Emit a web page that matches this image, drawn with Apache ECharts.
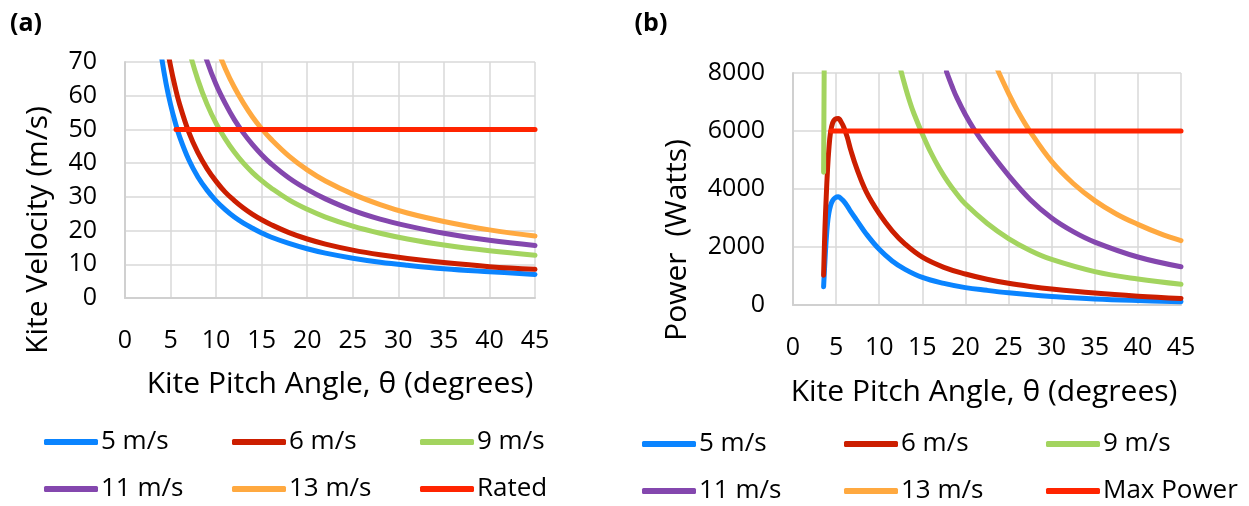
<!DOCTYPE html>
<html>
<head>
<meta charset="utf-8">
<script src="https://cdn.jsdelivr.net/npm/echarts@6/dist/echarts.min.js"></script>
<style>
  html, body { margin: 0; padding: 0; background: #fff; }
  #kite { width: 1249px; height: 506px; }
</style>
</head>
<body>
<div id="kite"></div>
<script>
const FONT = '"Open Sans"';

const names = ['5 m/s', '6 m/s', '9 m/s', '11 m/s', '13 m/s'];
const colors = ['#0a84ff', '#cc1e00', '#a3d45f', '#8447ae', '#ffa940'];
const ratedColor = '#ff2400';

// (a) kite velocity vs pitch angle
const thetaV = [3.5, 4, 4.5, 5, 5.5, 6, 7, 8, 9, 10, 11, 12, 13, 14, 15, 16, 18, 20, 22, 25, 28, 31, 35, 40, 45];
const vel5 = [81.9, 71.7, 63.7, 57.4, 52.2, 47.8, 41.0, 35.9, 32.0, 28.8, 26.2, 24.0, 22.2, 20.7, 19.3, 18.1, 16.2, 14.6, 13.3, 11.8, 10.6, 9.7, 8.7, 7.8, 7.0];
const vel6 = [98.3, 86.0, 76.5, 68.8, 62.6, 57.4, 49.2, 43.1, 38.4, 34.6, 31.4, 28.9, 26.7, 24.8, 23.2, 21.8, 19.4, 17.5, 16.0, 14.2, 12.8, 11.7, 10.5, 9.3, 8.5];
const vel9 = [147, 129, 115, 103, 93.9, 86.1, 73.9, 64.7, 57.5, 51.8, 47.2, 43.3, 40.0, 37.2, 34.8, 32.7, 29.1, 26.3, 24.0, 21.3, 19.2, 17.5, 15.7, 14.0, 12.7];
const vel11 = [180, 158, 140, 126, 115, 105, 90.3, 79.0, 70.3, 63.3, 57.7, 52.9, 48.9, 45.5, 42.5, 39.9, 35.6, 32.2, 29.4, 26.0, 23.4, 21.4, 19.2, 17.1, 15.6];
const vel13 = [213, 186, 166, 149, 136, 124, 107, 93.4, 83.1, 74.9, 68.1, 62.5, 57.8, 53.7, 50.2, 47.2, 42.1, 38.0, 34.7, 30.8, 27.7, 25.2, 22.7, 20.2, 18.4];
const ratedTheta = [5.6, 45];
const rated = [50, 50];

// (b) power vs pitch angle
const thetaP = [3.55, 3.7, 3.85, 4.0, 4.15, 4.35, 4.6, 4.9, 5.25, 5.6, 5.9, 6.3, 6.7, 7.4, 8.5, 10, 11.5, 13, 15, 17.5, 20, 22.5, 25, 27.5, 30, 35, 40, 45];
const pow5 = [630, 1500, 2250, 2800, 3150, 3420, 3600, 3700, 3730, 3660, 3570, 3410, 3220, 2920, 2450, 1920, 1520, 1230, 950, 745, 600, 505, 420, 350, 295, 210, 155, 115];
const pow6 = [1030, 2600, 3700, 4650, 5350, 5950, 6280, 6410, 6430, 6300, 6120, 5780, 5340, 4700, 3900, 3150, 2560, 2100, 1650, 1300, 1070, 890, 750, 640, 550, 410, 305, 225];
const theta9 = [3.55, 3.62, 8, 12.5, 13, 13.5, 14, 15, 16, 17, 18, 19, 20, 22.5, 25, 27.5, 30, 35, 40, 45];
const pow9 = [4580, 8300, null, 8100, 7550, 7050, 6620, 5900, 5250, 4700, 4230, 3830, 3480, 2820, 2290, 1880, 1570, 1150, 895, 715];
const theta11 = [17.8, 18.5, 19, 20, 21, 22.5, 25, 27.5, 30, 32.5, 35, 40, 45];
const pow11 = [8050, 7500, 7150, 6560, 6060, 5420, 4470, 3640, 3000, 2530, 2170, 1655, 1320];
const theta13 = [23.6, 24.2, 25, 26, 27.5, 30, 32.5, 35, 37.5, 40, 42.5, 45];
const pow13 = [8200, 7800, 7300, 6720, 5980, 4950, 4190, 3600, 3140, 2780, 2470, 2220];
const maxTheta = [4.4, 45];
const maxPower = [6000, 6000];

function pairs(xs, ys) {
  return xs.map((x, i) => [x, ys[i] == null ? '-' : ys[i]]);
}

function valueAxis(min, max, interval, margin) {
  return {
    type: 'value', min: min, max: max, interval: interval,
    axisLine: { show: true, onZero: false, lineStyle: { color: '#d0d0d0', width: 2 } },
    axisTick: { show: false },
    splitLine: { show: true, lineStyle: { color: '#d9d9d9', width: 1.5 } },
    axisLabel: {
      color: '#000', fontFamily: FONT, fontSize: 25, margin: margin,
      formatter: v => String(v)
    }
  };
}

function curve(name, color, data, axis, z) {
  return {
    name: name, type: 'line', data: data,
    xAxisIndex: axis, yAxisIndex: axis,
    smooth: 0.4, showSymbol: false, symbol: 'none', clip: true, z: z || 2,
    lineStyle: { color: color, width: 5, cap: 'round', join: 'round' },
    itemStyle: { color: color },
    emphasis: { disabled: true }
  };
}

const series = [
  curve(names[0], colors[0], pairs(thetaV, vel5), 0),
  curve(names[1], colors[1], pairs(thetaV, vel6), 0),
  curve(names[2], colors[2], pairs(thetaV, vel9), 0),
  curve(names[3], colors[3], pairs(thetaV, vel11), 0),
  curve(names[4], colors[4], pairs(thetaV, vel13), 0),
  curve('Rated', ratedColor, pairs(ratedTheta, rated), 0, 3),
  curve(names[0], colors[0], pairs(thetaP, pow5), 1),
  curve(names[1], colors[1], pairs(thetaP, pow6), 1),
  curve(names[2], colors[2], pairs(theta9, pow9), 1),
  curve(names[3], colors[3], pairs(theta11, pow11), 1),
  curve(names[4], colors[4], pairs(theta13, pow13), 1),
  curve('Max Power', ratedColor, pairs(maxTheta, maxPower), 1, 3)
];

// one legend block per entry so the columns line up like the original
const legendSpots = [
  ['5 m/s', 44, 429], ['6 m/s', 232, 429], ['9 m/s', 420, 429],
  ['11 m/s', 44, 476], ['13 m/s', 232, 476], ['Rated', 420, 476],
  ['5 m/s', 642, 431], ['6 m/s', 844, 431], ['9 m/s', 1046, 431],
  ['11 m/s', 642, 478], ['13 m/s', 844, 478], ['Max Power', 1046, 478]
];
const legends = legendSpots.map(s => ({
  data: [s[0]], left: s[1], top: s[2], padding: 0,
  icon: 'roundRect', itemWidth: 54, itemHeight: 6, itemGap: 0,
  selectedMode: false,
  textStyle: { color: '#000', fontFamily: FONT, fontSize: 26, padding: [0, 0, 0, -2] }
}));

function label(text, x, y, size, extra) {
  return Object.assign({
    type: 'text', x: x, y: y,
    style: { text: text, fill: '#000', font: size + 'px ' + FONT, align: 'center', verticalAlign: 'middle' }
  }, extra || {});
}

const chart = echarts.init(document.getElementById('kite'));
chart.setOption({
  animation: false,
  backgroundColor: '#fff',
  grid: [
    { left: 125, right: 714, top: 62, bottom: 208 },
    { left: 793, right: 68, top: 73, bottom: 201 }
  ],
  xAxis: [
    Object.assign(valueAxis(0, 45, 5, 30), { gridIndex: 0 }),
    Object.assign(valueAxis(0, 45, 5, 30), { gridIndex: 1 })
  ],
  yAxis: [
    Object.assign(valueAxis(0, 70, 10, 28), { gridIndex: 0 }),
    Object.assign(valueAxis(0, 8000, 2000, 28), { gridIndex: 1 })
  ],
  legend: legends,
  series: series,
  graphic: [
    label('(a)', 26, 24, 'bold 25'),
    label('(b)', 651, 24, 'bold 25'),
    label('Kite Pitch Angle, \u03b8 (degrees)', 340, 384, 30),
    label('Kite Pitch Angle, \u03b8 (degrees)', 984, 392, 30),
    label('Kite Velocity (m/s)', 38, 230, 30, { rotation: Math.PI / 2 }),
    label('Power  (Watts)', 677, 240, 30, { rotation: Math.PI / 2 })
  ]
});
</script>
</body>
</html>
